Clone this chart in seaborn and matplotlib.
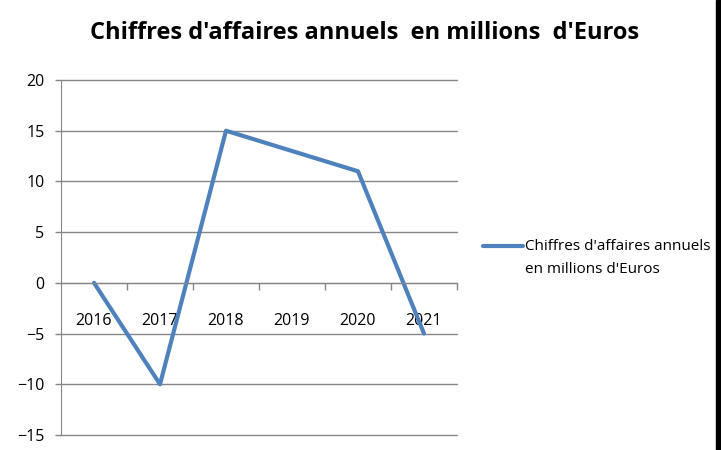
import pandas as pd
import matplotlib.pyplot as plt
import seaborn as sns
from matplotlib.patches import Rectangle
from matplotlib.legend_handler import HandlerLine2D

annees = ["2016", "2017", "2018", "2019", "2020", "2021"]
chiffres = [0, -10, 15, 13, 11, -5]
serie = "Chiffres d'affaires annuels\nen millions d'Euros"
titre = "Chiffres d'affaires annuels  en millions  d'Euros"

df = pd.DataFrame({"annee": annees, "ca": chiffres})

sns.set_style("white")
plt.rcParams['font.family'] = ['Open Sans', 'DejaVu Sans']
plt.rcParams['text.color'] = "black"
plt.rcParams['xtick.color'] = "black"
plt.rcParams['ytick.color'] = "black"


class HandlerHaut(HandlerLine2D):
    # le trait de légende reste au niveau de la première ligne du texte
    def create_artists(self, *args, **kwargs):
        arts = super().create_artists(*args, **kwargs)
        for a in arts:
            a.set_ydata([y + 9 for y in a.get_ydata()])
        return arts


fig = plt.figure(figsize=(7.21, 4.5), dpi=100)
ax = fig.add_axes([61 / 721, 1 - 435 / 450, 396 / 721, 355 / 450])

sns.lineplot(data=df, x="annee", y="ca", color="#4F81BD", linewidth=3,
             label=serie, ax=ax)

ax.set_xlim(-0.5, len(annees) - 0.5)
ax.set_ylim(-15, 20)
ax.set_yticks(range(-15, 21, 5))
ax.yaxis.grid(True, color="#868686", linewidth=1)
for g in ax.get_ygridlines():
    g.set_clip_on(False)
ax.set_axisbelow(True)
ax.set_xlabel("")
ax.set_ylabel("")

for s in ["top", "right"]:
    ax.spines[s].set_visible(False)
ax.spines["left"].set_color("#868686")
ax.spines["bottom"].set_color("#868686")
ax.spines["bottom"].set_position(("data", 0))

# graduations entre les catégories, libellés sous la ligne du zéro
ax.set_xticks(range(len(annees)))
ax.set_xticklabels(annees)
ax.set_xticks([i + 0.5 for i in range(len(annees))], minor=True)
ax.tick_params(axis="x", which="minor", bottom=True, length=5, width=1,
               color="#868686", direction="out")
ax.tick_params(axis="x", which="major", bottom=True, length=0, pad=22, labelsize=11.5)
ax.tick_params(axis="y", left=True, length=4, width=1, color="#868686",
               direction="out", pad=8, labelsize=11.5)

leg = ax.legend(loc="center left", bbox_to_anchor=(483 / 721, 1 - 258 / 450),
                bbox_transform=fig.transFigure, frameon=False, fontsize=11,
                handlelength=2.6, handletextpad=0.15, borderaxespad=0, borderpad=0,
                handler_map={plt.Line2D: HandlerHaut()})
for t in leg.get_texts():
    t.set_linespacing(1.75)

fig.suptitle(titre, x=365 / 721, y=1 - 33 / 450, va="center",
             fontsize=17, fontweight="bold")

fig.patches.append(Rectangle((716 / 721, 0), 5 / 721, 1, color="black",
                             transform=fig.transFigure, figure=fig))

plt.savefig("out.png", dpi=100)
